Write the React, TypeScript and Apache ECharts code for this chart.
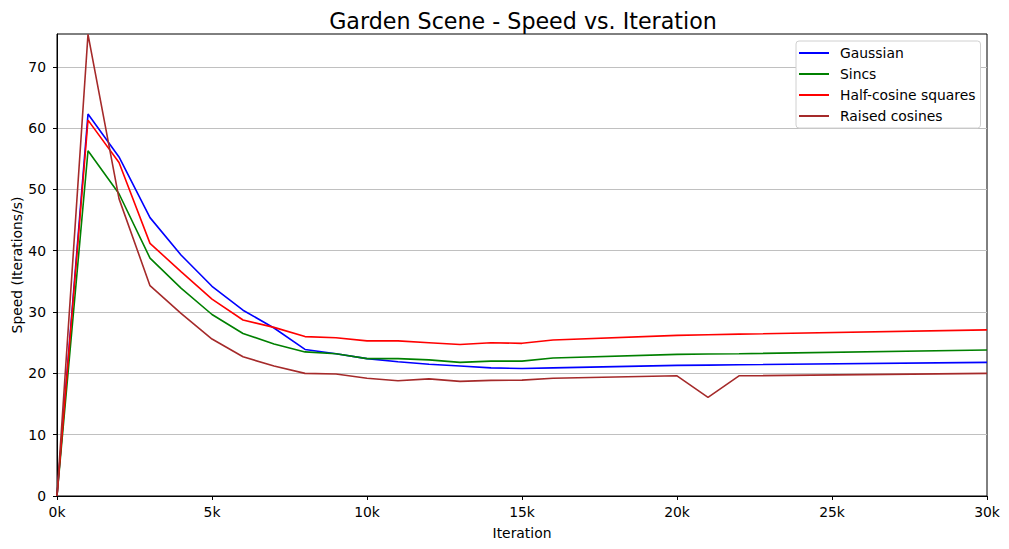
import React, { useEffect, useRef } from "react";
import * as echarts from "echarts";

const iterations = [0, 1000, 2000, 3000, 4000, 5000, 6000, 7000, 8000, 9000, 10000, 11000, 12000, 13000, 14000, 15000, 16000, 20000, 21000, 22000, 30000];
const gaussian = [0, 62.3, 55.3, 45.4, 39.3, 34.2, 30.3, 27.4, 23.9, 23.2, 22.4, 21.9, 21.5, 21.2, 20.9, 20.8, 20.9, 21.3, 21.35, 21.4, 21.8];
const sincs = [0, 56.3, 49.3, 38.8, 33.9, 29.6, 26.5, 24.8, 23.5, 23.2, 22.4, 22.4, 22.2, 21.8, 22.0, 22.0, 22.5, 23.1, 23.15, 23.2, 23.8];
const halfCosineSquares = [0, 61.3, 54.4, 41.2, 36.6, 32.1, 28.7, 27.5, 26.0, 25.8, 25.3, 25.3, 25.0, 24.7, 25.0, 24.9, 25.45, 26.2, 26.3, 26.4, 27.1];
const raisedCosines = [0, 75.3, 48.5, 34.3, 29.8, 25.6, 22.7, 21.2, 20.0, 19.9, 19.2, 18.8, 19.1, 18.7, 18.85, 18.9, 19.2, 19.6, 16.1, 19.6, 20.0];

const seriesNames = ["Gaussian", "Sincs", "Half-cosine squares", "Raised cosines"];
const seriesColors = ["#0000ff", "#008000", "#ff0000", "#a52a2a"];
const seriesValues = [gaussian, sincs, halfCosineSquares, raisedCosines];
const yTicks = [0, 10, 20, 30, 40, 50, 60, 70];
const yMax = 75.35;

const FONT = "DejaVu Sans";
const FS = 13.9;

export default function App() {
  const ref = useRef<HTMLDivElement>(null);
  useEffect(() => {
    if (!ref.current) return;
    const chart = echarts.init(ref.current, null, { renderer: "svg" });
    chart.setOption({
      animation: false,
      backgroundColor: "#ffffff",
      textStyle: { fontFamily: FONT },
      title: {
        text: "Garden Scene - Speed vs. Iteration",
        left: 518,
        textAlign: "center",
        top: 5,
        textStyle: { fontFamily: FONT, fontSize: 22.2, fontWeight: "normal", color: "#000" },
      },
      legend: {
        orient: "vertical",
        left: 796,
        top: 41,
        padding: [5, 5, 5, 3],
        itemGap: 7,
        itemWidth: 30,
        itemHeight: 2,
        icon: "rect",
        backgroundColor: "#ffffff",
        borderColor: "#d0d0d0",
        borderWidth: 1,
        borderRadius: 3,
        textStyle: { fontFamily: FONT, fontSize: FS, color: "#000", lineHeight: 14, padding: [0, 0, 0, 6] },
        data: seriesNames,
      },
      grid: {
        left: 57,
        right: 22,
        top: 34,
        bottom: 53,
        containLabel: false,
        outerBoundsMode: "none",
        show: true,
        borderColor: "#000",
        borderWidth: 1,
        backgroundColor: "transparent",
      },
      xAxis: {
        type: "value",
        min: 0,
        max: 30000,
        interval: 5000,
        name: "Iteration",
        nameLocation: "middle",
        nameGap: 30,
        nameMoveOverlap: false,
        nameTextStyle: { fontFamily: FONT, fontSize: FS, color: "#000" },
        axisLine: { show: true, lineStyle: { color: "#000", width: 1 } },
        axisTick: { show: true, length: 4, lineStyle: { color: "#000" } },
        axisLabel: {
          color: "#000",
          fontFamily: FONT,
          fontSize: FS,
          margin: 9,
          formatter: (v: number) => `${Math.round(v / 1000)}k`,
        },
        splitLine: { show: false },
      },
      yAxis: {
        type: "value",
        min: 0,
        max: yMax,
        interval: 10,
        name: "Speed (Iterations/s)",
        nameLocation: "middle",
        nameGap: 33,
        nameMoveOverlap: false,
        nameTextStyle: { fontFamily: FONT, fontSize: FS, color: "#000" },
        axisLine: { show: true, lineStyle: { color: "#000", width: 1 } },
        axisTick: { show: true, length: 4, lineStyle: { color: "#000" }, customValues: yTicks },
        axisLabel: { color: "#000", fontFamily: FONT, fontSize: FS, margin: 11, customValues: yTicks },
        splitLine: { show: true, lineStyle: { color: "#c0c0c0", width: 1 } },
      },
      series: seriesNames.map((name, i) => ({
        name,
        type: "line",
        data: iterations.map((x, j) => [x, seriesValues[i][j]]),
        symbol: "none",
        showSymbol: false,
        clip: true,
        lineStyle: { color: seriesColors[i], width: 1.6 },
        itemStyle: { color: seriesColors[i] },
      })),
    });
    return () => chart.dispose();
  }, []);
  return (
    <div
      ref={ref}
      style={{ position: "fixed", left: 0, top: 0, width: 1009, height: 549 }}
    />
  );
}
